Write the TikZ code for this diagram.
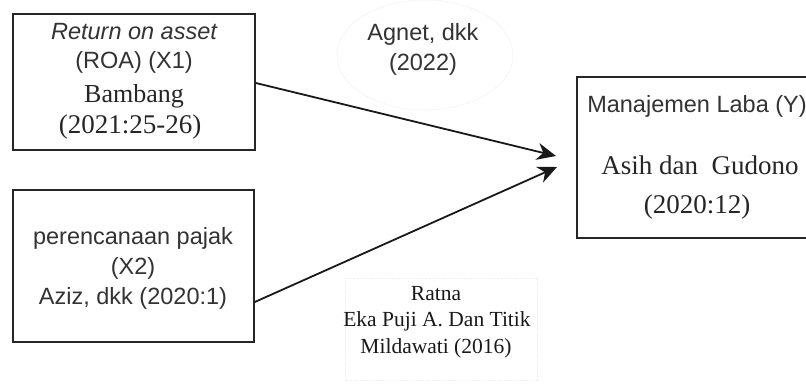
\documentclass[tikz,border=0pt]{standalone}
\usepackage{fontspec}
\setmainfont{Liberation Serif}
\setsansfont{Liberation Sans}
\usetikzlibrary{arrows.meta}
\tikzset{
  box/.style={draw=black!85, line width=1.6pt, rectangle, inner sep=0pt},
  sanst/.style={font=\sffamily\fontsize{23.5}{26}\selectfont, text=black!80, inner sep=0pt},
  seriftl/.style={font=\rmfamily\fontsize{27}{30}\selectfont, text=black!85, inner sep=0pt},
  serifsm/.style={font=\rmfamily\fontsize{21.5}{24}\selectfont, text=black!90, inner sep=0pt},
  faint/.style={draw=black!7, densely dotted, line width=0.8pt},
  conn/.style={draw=black!90, line width=1.8pt, -{Stealth[length=19pt,width=17pt,inset=6pt]}}
}
\begin{document}
\begin{tikzpicture}[x=1pt,y=-1pt]
\useasboundingbox (0,0) rectangle (806,383);
\clip (0,0) rectangle (806,383);
\fill[white] (0,0) rectangle (806,383);
% faint decorations
\draw[faint] (425,55) ellipse (88 and 55);
\draw[faint] (345,278) rectangle (537,380);
% boxes
\node[box, minimum width=242pt, minimum height=136pt] (b1) at (134,82) {};
\node[box, minimum width=241pt, minimum height=152pt] (b2) at (133.5,266) {};
\node[box, minimum width=240pt, minimum height=161pt] (by) at (697,157.5) {};
% box 1 text
\node[sanst, font=\sffamily\itshape\fontsize{23.5}{26}\selectfont] (t11) at (134,32) {Return on asset};
\node[sanst] (t12) at (134,62) {(ROA) (X1)};
\node[seriftl, font=\rmfamily\fontsize{26}{29}\selectfont] (t13) at (134,96) {Bambang};
\node[seriftl] (t14) at (130,127) {(2021:25-26)};
% box 2 text
\node[sanst] (t21) at (133,238) {perencanaan pajak};
\node[sanst] (t22) at (133,268) {(X2)};
\node[sanst] (t23) at (133,298) {Aziz, dkk (2020:1)};
% box Y text
\node[sanst] (ty1) at (697,106) {Manajemen Laba (Y)};
\node[seriftl] (ty2) at (700,165) {Asih dan\ \ Gudono};
\node[seriftl] (ty3) at (697,207) {(2020:12)};
% labels
\node[sanst] (l1) at (423,34) {Agnet, dkk};
\node[sanst] (l2) at (423,64) {(2022)};
\node[serifsm] (r1) at (436,294) {Ratna};
\node[serifsm] (r2) at (437,321) {Eka Puji A. Dan Titik};
\node[serifsm] (r3) at (436,348) {Mildawati (2016)};
% connectors
\coordinate (tip1) at (556,156);
\coordinate (tip2) at (557,167);
\draw[conn] (b1.east |- 0,83) -- (tip1);
\draw[conn] (b2.east |- 0,302) -- (tip2);
\end{tikzpicture}
\end{document}
